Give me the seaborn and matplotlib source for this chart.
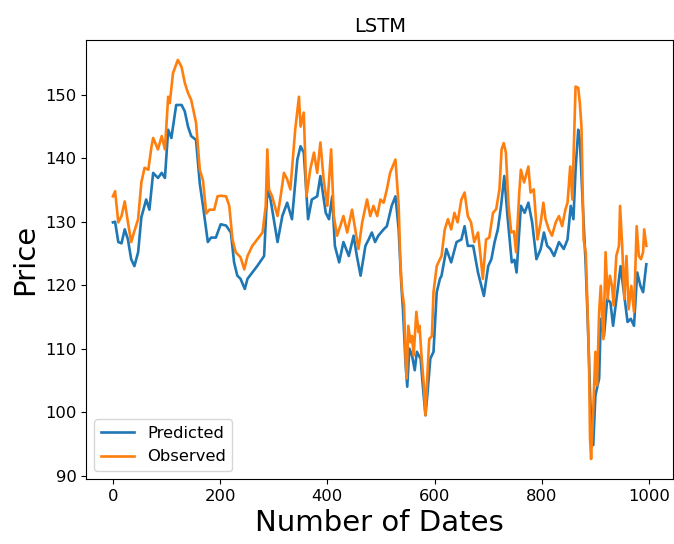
import pandas as pd
import matplotlib
matplotlib.use("Agg")
import matplotlib.pyplot as plt
import seaborn as sns

# values (date index -> price)
pred_dates = [0, 4, 10, 16, 22, 28, 34, 40, 47, 53, 62, 68, 75, 84, 91, 97, 103, 109, 118, 128,
              134, 140, 146, 155, 162, 168, 177, 183, 192, 201, 211, 220, 226, 232, 238, 246, 251,
              260, 269, 282, 288, 294, 307, 316, 325, 334, 344, 350, 356, 364, 371, 381, 387, 397,
              403, 409, 414, 422, 430, 440, 449, 455, 462, 471, 477, 483, 489, 495, 505, 511, 520,
              527, 533, 538, 541, 546, 549, 553, 558, 563, 567, 574, 578, 583, 587, 592, 598, 604,
              610, 613, 622, 631, 641, 650, 656, 662, 672, 681, 692, 700, 706, 712, 718, 724, 730,
              736, 744, 749, 753, 761, 768, 775, 782, 790, 798, 804, 810, 816, 823, 832, 841, 848,
              854, 859, 863, 868, 871, 876, 882, 886, 891, 896, 900, 907, 910, 916, 922, 928, 933,
              941, 947, 953, 960, 966, 972, 978, 984, 989, 995]
pred_price = [129.9, 130.0, 126.8, 126.6, 128.8, 127.2, 124.1, 123.0, 125.2, 130.7, 133.5, 131.9,
              137.7, 136.9, 137.7, 136.9, 144.5, 143.2, 148.4, 148.4, 147.4, 145.0, 143.5, 142.9,
              136.0, 132.5, 126.8, 127.5, 127.5, 129.6, 129.4, 128.3, 123.6, 121.5, 121.0, 119.4,
              121.0, 122.0, 123.0, 124.6, 135.1, 133.5, 126.8, 130.9, 133.0, 130.4, 139.8, 141.9,
              140.9, 130.4, 133.5, 134.0, 137.2, 131.4, 130.4, 134.0, 126.2, 123.6, 126.8, 124.6,
              127.8, 124.6, 121.5, 126.2, 127.2, 128.3, 126.8, 127.8, 128.8, 129.3, 132.5, 134.0,
              128.8, 120.0, 116.2, 107.4, 104.0, 110.0, 108.9, 106.6, 109.5, 108.4, 104.2, 99.5,
              103.2, 108.4, 109.5, 118.9, 121.0, 121.5, 125.7, 123.6, 126.8, 127.2, 129.3, 126.2,
              126.2, 122.0, 118.3, 123.0, 124.1, 126.8, 128.8, 132.5, 137.2, 130.9, 123.6, 124.0,
              122.0, 132.5, 131.4, 133.0, 129.9, 124.1, 125.7, 128.3, 126.2, 125.7, 124.6, 126.8,
              125.7, 127.2, 132.5, 130.4, 138.2, 144.5, 142.9, 133.5, 123.0, 113.6, 100.5, 94.8,
              102.6, 105.3, 114.7, 112.0, 117.8, 117.3, 113.6, 118.9, 123.0, 118.9, 114.2, 114.7,
              113.6, 122.0, 119.9, 118.9, 123.3]

obs_dates = [0, 4, 10, 16, 22, 28, 34, 41, 47, 53, 59, 66, 72, 75, 84, 91, 97, 103, 106, 112, 121,
             128, 134, 140, 146, 155, 162, 168, 174, 180, 189, 195, 201, 211, 217, 223, 229, 238,
             245, 251, 260, 269, 279, 285, 288, 291, 297, 307, 313, 319, 325, 331, 340, 347, 350,
             356, 361, 368, 375, 381, 387, 393, 400, 407, 412, 418, 424, 430, 437, 446, 452, 458,
             465, 474, 480, 486, 493, 499, 505, 511, 517, 527, 533, 536, 539, 543, 546, 548, 551,
             555, 558, 561, 566, 570, 572, 576, 580, 583, 586, 590, 595, 598, 604, 610, 613, 619,
             625, 631, 637, 643, 650, 656, 662, 668, 674, 681, 687, 690, 696, 702, 709, 715, 721,
             725, 729, 733, 738, 743, 748, 752, 758, 761, 767, 775, 779, 785, 792, 798, 803, 807,
             813, 819, 826, 832, 838, 844, 848, 853, 857, 861, 863, 868, 871, 874, 878, 882, 885,
             888, 890, 892, 896, 900, 903, 907, 910, 915, 919, 923, 927, 931, 934, 939, 944, 946,
             950, 954, 958, 962, 967, 972, 977, 981, 985, 989, 991, 995]
obs_price = [134.0, 134.8, 129.9, 130.9, 133.2, 129.9, 126.8, 128.8, 130.4, 136.2, 138.5, 138.2,
             141.9, 143.2, 141.4, 143.5, 141.4, 149.7, 148.7, 153.4, 155.5, 154.4, 151.9, 150.3,
             149.2, 145.6, 138.2, 136.5, 131.3, 131.9, 131.9, 134.0, 134.1, 134.0, 132.5, 127.2,
             125.2, 124.4, 122.5, 124.6, 126.2, 127.2, 128.3, 132.5, 141.4, 135.1, 134.0, 130.9,
             134.1, 137.7, 136.7, 135.1, 144.5, 149.7, 145.0, 147.2, 134.0, 138.2, 140.9, 137.7,
             142.5, 136.7, 132.5, 141.4, 130.9, 127.8, 129.3, 130.9, 128.3, 131.9, 128.8, 125.7,
             129.9, 133.5, 130.9, 132.5, 130.9, 133.5, 133.0, 135.1, 137.7, 139.8, 132.5, 124.1,
             119.4, 116.8, 108.4, 105.3, 113.6, 111.0, 112.0, 108.9, 115.8, 112.6, 113.6, 108.4,
             104.2, 99.5, 104.8, 111.5, 112.0, 118.9, 123.0, 124.1, 124.6, 128.8, 130.4, 128.8,
             131.4, 129.9, 133.5, 134.6, 130.9, 129.9, 126.8, 128.3, 123.6, 121.0, 127.2, 127.5,
             131.4, 132.0, 135.1, 141.4, 142.4, 140.9, 132.5, 128.3, 128.5, 125.2, 134.6, 138.2,
             136.2, 138.7, 134.6, 135.1, 127.2, 129.9, 133.0, 130.4, 128.8, 127.8, 129.9, 130.9,
             129.3, 131.9, 133.0, 138.7, 133.5, 145.0, 151.3, 151.1, 148.7, 145.0, 127.2, 125.2,
             117.3, 108.4, 95.8, 92.6, 100.5, 109.5, 104.2, 115.8, 119.9, 111.5, 125.2, 117.8,
             121.5, 119.9, 116.8, 124.6, 126.2, 132.5, 126.2, 117.8, 124.6, 116.2, 119.9, 115.8,
             129.3, 124.6, 124.1, 125.2, 128.8, 126.2]

pred = pd.DataFrame({"date": pred_dates, "price": pred_price})
obs = pd.DataFrame({"date": obs_dates, "price": obs_price})

fig = plt.figure(figsize=(6.74, 5.44), dpi=100)
ax = fig.add_axes([0.128, 0.1195, 0.8705, 0.807])

sns.lineplot(data=pred, x="date", y="price", color="#1f77b4", linewidth=1.9,
             label="Predicted", ax=ax)
sns.lineplot(data=obs, x="date", y="price", color="#ff7f0e", linewidth=1.9,
             label="Observed", ax=ax)

ax.set_title("LSTM", fontsize=14)
ax.set_xlabel("Number of Dates", fontsize=21)
ax.set_ylabel("Price", fontsize=21)
ax.set_xticks([0, 200, 400, 600, 800, 1000])
ax.set_yticks([90, 100, 110, 120, 130, 140, 150])
ax.tick_params(labelsize=11.8)
ax.legend(loc="lower left", fontsize=11.8)

fig.savefig("out.png", dpi=100)
